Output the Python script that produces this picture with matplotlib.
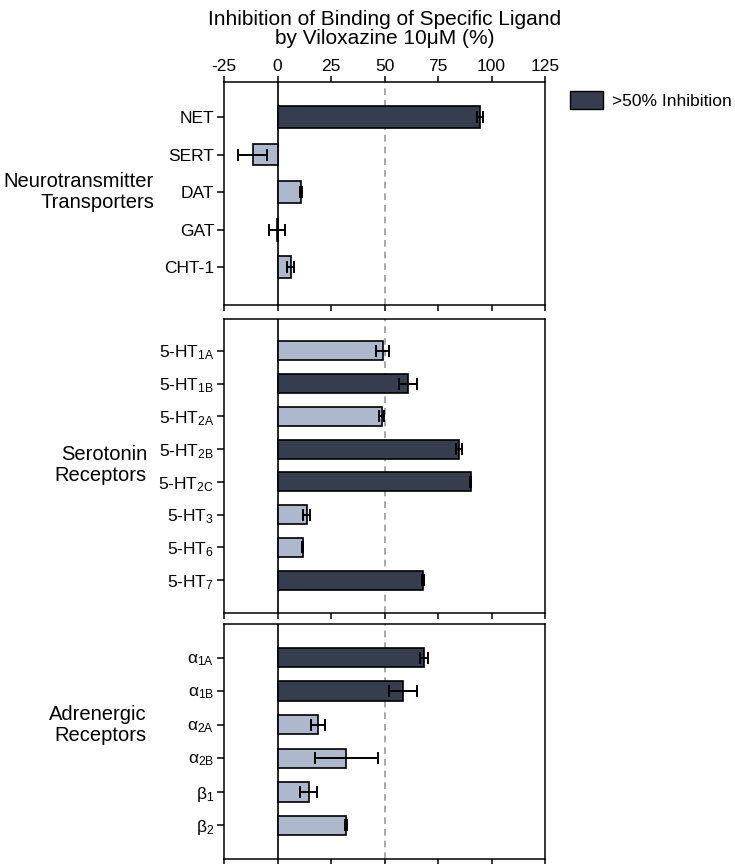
import matplotlib
matplotlib.use("Agg")
import matplotlib.pyplot as plt
from matplotlib.patches import Patch
import numpy as np

plt.rcParams['font.family'] = ['Liberation Sans', 'DejaVu Sans']
plt.rcParams['mathtext.fontset'] = 'custom'
plt.rcParams['mathtext.rm'] = 'Liberation Sans'
plt.rcParams['mathtext.it'] = 'Liberation Sans'
plt.rcParams['mathtext.default'] = 'regular'
plt.rcParams['axes.unicode_minus'] = False

# ---- data ----
transporter_labels = ["NET", "SERT", "DAT", "GAT", "CHT-1"]
transporter_values = [94.5, -11.6, 10.9, -0.4, 6.2]
transporter_errors = [1.3, 6.9, 0.5, 3.7, 1.7]

serotonin_labels = ["5-HT$_{1A}$", "5-HT$_{1B}$", "5-HT$_{2A}$", "5-HT$_{2B}$",
                    "5-HT$_{2C}$", "5-HT$_{3}$", "5-HT$_{6}$", "5-HT$_{7}$"]
serotonin_values = [49.1, 60.9, 48.6, 84.6, 90.2, 13.6, 11.7, 67.9]
serotonin_errors = [3.0, 4.2, 1.0, 1.4, 0.3, 1.6, 0.3, 0.6]

adrenergic_labels = ["α$_{1A}$", "α$_{1B}$", "α$_{2A}$", "α$_{2B}$", "β$_{1}$", "β$_{2}$"]
adrenergic_values = [68.4, 58.6, 19.0, 32.1, 14.5, 32.1]
adrenergic_errors = [2.0, 6.4, 3.4, 14.8, 4.1, 0.5]

group_names = ["Neurotransmitter\nTransporters", "Serotonin\nReceptors", "Adrenergic\nReceptors"]
x_ticks = [-25, 0, 25, 50, 75, 100, 125]
threshold = 50

DARK = '#353d4e'
LIGHT = '#adb8cc'

fig = plt.figure(figsize=(7.35, 8.64), dpi=100)
W = 735.0
H = 864.0
left, right = 224 / W, 545 / W

panels = [
    (transporter_labels, transporter_values, transporter_errors, 82, 305, -0.93, 5.0, 154, 192),
    (serotonin_labels, serotonin_values, serotonin_errors, 319, 613, -0.97, 8.0, 147, 465),
    (adrenergic_labels, adrenergic_values, adrenergic_errors, 624, 859, -1.0, 6.0, 147, 725),
]

axes = []
for i, (labels, vals, errs, top, bot, ytop, ybot, gx, gy) in enumerate(panels):
    ax = fig.add_axes([left, 1 - bot / H, right - left, (bot - top) / H])
    axes.append(ax)
    y = np.arange(len(labels))
    colors = [DARK if v > threshold else LIGHT for v in vals]
    ax.barh(y, vals, height=0.58, color=colors, edgecolor='black', linewidth=1.2, zorder=3)
    ax.errorbar(vals, y, xerr=errs, fmt='none', ecolor='black', elinewidth=1.4,
                capsize=4, capthick=1.4, zorder=4)
    ax.axvline(0, color='black', linewidth=1.2, zorder=2)
    ax.axvline(threshold, color='#999999', linewidth=1.2, linestyle=(0, (4, 3)), zorder=1)
    ax.set_xlim(-25, 125)
    ax.set_ylim(ybot, ytop)
    ax.set_yticks(y)
    ax.set_yticklabels(labels, fontsize=12.5)
    ax.set_xticks(x_ticks)
    ax.tick_params(axis='y', length=5, width=1.1, pad=2)
    ax.tick_params(axis='x', length=4.5, width=1.1, direction='out')
    if i == 0:
        ax.tick_params(axis='x', top=True, labeltop=True, bottom=True, labelbottom=False,
                       labelsize=12.5, pad=1.5)
    else:
        ax.tick_params(axis='x', top=False, labeltop=False, bottom=True, labelbottom=False)
    for s in ax.spines.values():
        s.set_linewidth(1.1)
    fig.text(gx / W, 1 - gy / H, group_names[i], ha='right', va='center',
             multialignment='right', fontsize=14.5, linespacing=1.15)

fig.text((224 + 545) / 2 / W, 1 - 29 / H,
         "Inhibition of Binding of Specific Ligand\nby Viloxazine 10μM (%)",
         ha='center', va='center', fontsize=15, linespacing=1.0)

fig.legend(handles=[Patch(facecolor=DARK, edgecolor='black', linewidth=1.0, label='>50% Inhibition')],
           loc='center left', bbox_to_anchor=(565 / W, 1 - 100 / H), frameon=False,
           fontsize=12.5, handlelength=1.9, handleheight=1.3, handletextpad=0.5,
           borderaxespad=0.0, borderpad=0.3)

fig.savefig("out.png", dpi=100)
